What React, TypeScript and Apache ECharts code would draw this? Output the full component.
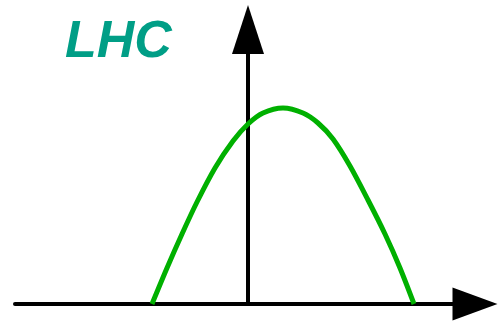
import React, { useEffect, useRef } from "react";
import * as echarts from "echarts";

// Curve samples: horizontal position relative to the vertical axis, height above the horizontal axis
const curveX = [-96, -81, -66, -51, -33, -15, 0, 15, 35, 55, 70, 85, 102, 120, 137, 152, 166];
const curveY = [0, 36, 70, 102, 136, 163, 180, 191, 196, 191, 181, 165, 138, 104, 70, 36, 0];

// Axis extents
const xRange = [-233, 227];
const yRange = [0, 274.5];

const titleText = "LHC";

export default function App() {
  const ref = useRef<HTMLDivElement>(null);

  useEffect(() => {
    if (!ref.current) return;
    const chart = echarts.init(ref.current, null, { renderer: "svg" });
    const data = curveX.map((x, i) => [x, curveY[i]]);

    chart.setOption({
      animation: false,
      backgroundColor: "#ffffff",
      title: {
        text: titleText,
        left: 60,
        top: 8,
        textStyle: {
          fontFamily: "Liberation Sans, Arial, sans-serif",
          fontSize: 52,
          fontWeight: "bold",
          fontStyle: "italic",
          color: "#009e86",
        },
      },
      grid: { left: 15, right: 24, top: 29.5, bottom: 18 },
      xAxis: {
        type: "value",
        min: xRange[0],
        max: xRange[1],
        axisLine: {
          show: true,
          symbol: ["none", "triangle"],
          symbolSize: [33, 45],
          lineStyle: { color: "#000000", width: 4 },
        },
        axisTick: { show: false },
        axisLabel: { show: false },
        splitLine: { show: false },
      },
      yAxis: {
        type: "value",
        min: yRange[0],
        max: yRange[1],
        axisLine: {
          show: true,
          onZero: true,
          symbol: ["none", "triangle"],
          symbolSize: [32, 49],
          lineStyle: { color: "#000000", width: 4 },
        },
        axisTick: { show: false },
        axisLabel: { show: false },
        splitLine: { show: false },
      },
      series: [
        {
          type: "line",
          data,
          smooth: 0.3,
          showSymbol: false,
          lineStyle: { color: "#00b000", width: 5 },
          z: 1,
        },
      ],
    });

    return () => chart.dispose();
  }, []);

  return (
    <div
      ref={ref}
      style={{ position: "fixed", left: 0, top: 0, width: 499, height: 322 }}
    />
  );
}
